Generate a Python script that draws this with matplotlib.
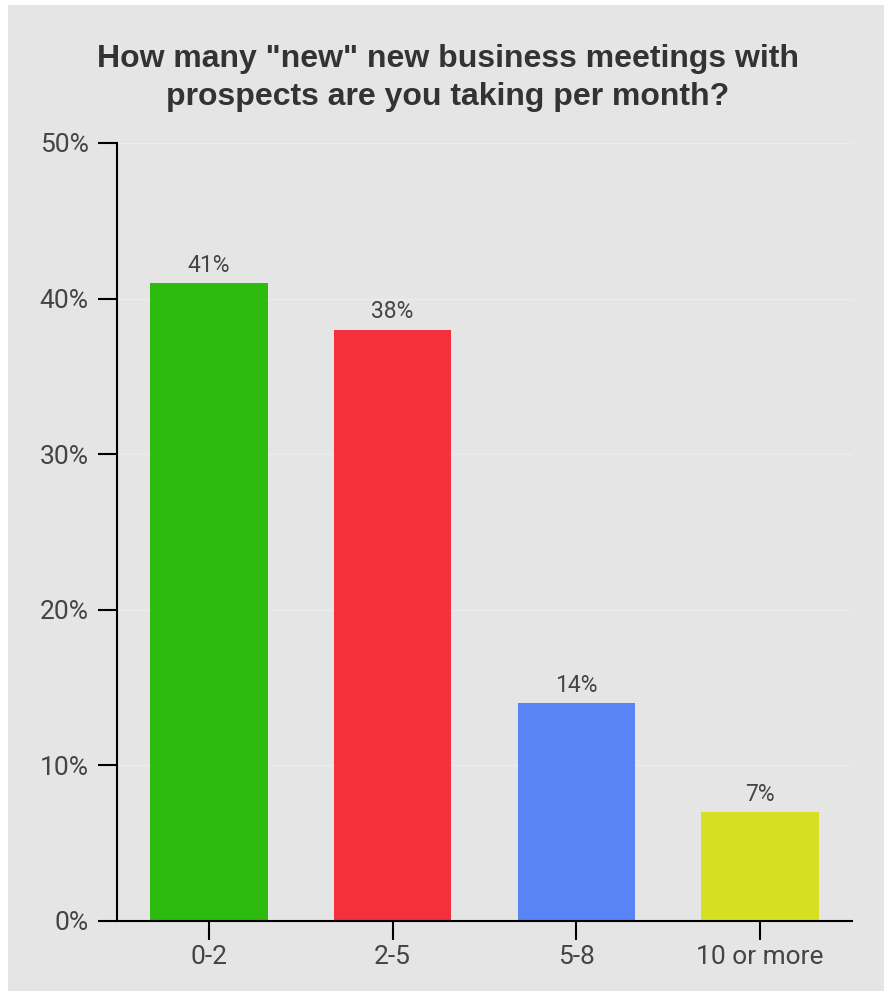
import numpy as np
import matplotlib
matplotlib.use('Agg')
import matplotlib.pyplot as plt
from matplotlib.patches import Rectangle

categories = ['0-2', '2-5', '5-8', '10 or more']
shares = [41, 38, 14, 7]
bar_colors = ['#2cbb0e', '#f5303d', '#5884f5', '#d6df21']
y_ticks = [0, 10, 20, 30, 40, 50]
title = 'How many "new" new business meetings with\nprospects are you taking per month?'

plt.rcParams['font.family'] = ['Roboto', 'DejaVu Sans']

W, H = 889, 996
fig = plt.figure(figsize=(W / 100, H / 100), dpi=100, facecolor='white')

# grey panel behind everything, white rim round the edge
fig.patches.append(Rectangle((8 / W, 5 / H), (884 - 8) / W, (991 - 5) / H,
                             transform=fig.transFigure, facecolor='#e5e5e5',
                             edgecolor='none', zorder=-1))

ax = fig.add_axes([117 / W, 1 - 921 / H, (852 - 117) / W, (921 - 143) / H])
ax.set_facecolor('none')

x = np.arange(len(categories))
ax.bar(x, shares, width=0.64, color=bar_colors, zorder=3)
for xi, v in zip(x, shares):
    ax.text(xi, v + 0.4, '%d%%' % v, ha='center', va='bottom',
            fontsize=16.5, color='#444444', zorder=4)

ax.set_xlim(-0.5, len(categories) - 0.5)
ax.set_ylim(0, 50)
ax.set_yticks(y_ticks)
ax.set_yticklabels(['%d%%' % t for t in y_ticks])
ax.set_xticks(x)
ax.set_xticklabels(categories)

for t in y_ticks[1:]:
    ax.axhline(t, color='#ececec', linewidth=1, zorder=1)

for side in ['top', 'right']:
    ax.spines[side].set_visible(False)
for side in ['left', 'bottom']:
    ax.spines[side].set_linewidth(1.5)
    ax.spines[side].set_color('black')
    ax.spines[side].set_zorder(5)

ax.tick_params(axis='both', length=13.5, width=1.5, color='black',
               labelsize=19, labelcolor='#444444')
ax.tick_params(axis='y', pad=7)
ax.tick_params(axis='x', pad=4)

fig.text(448 / W, 1 - 78 / H, title, ha='center', va='center',
         fontsize=23, fontweight='bold', color='#333333',
         family=['Liberation Sans', 'DejaVu Sans'], linespacing=1.35)

fig.savefig('out.png', dpi=100, facecolor='white')
